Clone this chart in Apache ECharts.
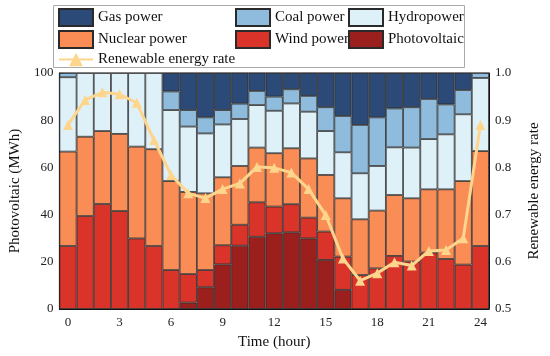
<!DOCTYPE html>
<html>
<head>
<meta charset="utf-8">
<script src="https://cdn.jsdelivr.net/npm/echarts@6/dist/echarts.min.js"></script>
<style>html,body{margin:0;padding:0;background:#fff}#c{width:550px;height:356px}</style>
</head>
<body>
<div id="c"></div>
<script>
var hours = ['0','1','2','3','4','5','6','7','8','9','10','11','12','13','14','15','16','17','18','19','20','21','22','23','24'];
var photovoltaic = [0,0,0,0,0,0,0,2.7,9.2,18.9,26.8,30.6,32.1,32.5,29.9,20.8,8.1,0,0,0,0,0,0,0,0];
var windPower = [26.7,39.4,44.5,41.5,29.9,26.7,16.5,12.1,7.3,8.1,8.9,14.6,11.3,11.9,8.8,12.0,14.1,14.4,17.2,22.5,20.1,23.9,21.2,18.8,26.7];
var nuclearPower = [40.0,33.6,30.9,32.7,38.9,41.0,37.7,34.8,32.5,28.8,24.9,23.2,22.6,23.7,25.1,24.0,24.7,23.6,24.5,25.8,26.8,26.8,29.5,35.4,40.2];
var hydropower = [31.5,27.0,24.6,25.8,31.2,32.3,30.1,27.7,25.4,22.4,19.9,18.0,18.0,19.0,19.8,18.6,19.5,19.5,18.9,20.2,21.5,21.3,23.3,28.3,31.0];
var coalPower = [1.8,0,0,0,0,0,7.9,7.0,6.8,6.1,6.5,6.0,6.0,6.0,6.7,10.1,15.4,20.5,20.6,16.5,17.1,17.0,12.7,10.3,2.1];
var gasPower = [0,0,0,0,0,0,7.8,15.7,18.8,15.7,13.0,7.6,10.0,6.9,9.7,14.5,18.2,22.0,18.8,15.0,14.5,11.0,13.3,7.2,0];
var renewableRate = [0.890,0.943,0.959,0.955,0.937,0.858,0.784,0.745,0.735,0.754,0.766,0.801,0.799,0.789,0.754,0.699,0.607,0.560,0.576,0.599,0.592,0.623,0.625,0.650,0.890];

var FONT = '"Liberation Serif","DejaVu Serif",serif';
var chart = echarts.init(document.getElementById('c'));
function nz(a){return a.map(function(v){return v===0?'-':v;});}
function barSeries(name, data, color){
  return {name:name, type:'bar', stack:'total', data:nz(data), barCategoryGap:0,
    itemStyle:{color:color, borderColor:'#2a2a2a', borderWidth:0.8}};
}
var legendText = {fontFamily:FONT, fontSize:15, color:'#111'};
chart.setOption({
  animation:false,
  backgroundColor:'#fff',
  grid:{left:46, right:56, top:73, bottom:47, show:true, borderColor:'#111', borderWidth:1, backgroundColor:'transparent'},
  graphic:[{type:'rect', shape:{x:53.5,y:5.5,width:411,height:62}, style:{fill:'none', stroke:'#aaa', lineWidth:1}, z:-1}],
  legend:[
    {orient:'vertical', left:58, top:8, itemWidth:34, itemHeight:17, itemGap:3, textStyle:legendText, padding:0,
      data:[{name:'Gas power',icon:'rect'},{name:'Nuclear power',icon:'rect'},{name:'Renewable energy rate'}]},
    {orient:'vertical', left:235, top:8, itemWidth:34, itemHeight:17, itemGap:3, textStyle:legendText, padding:0,
      data:[{name:'Coal power',icon:'rect'},{name:'Wind power',icon:'rect'}]},
    {orient:'vertical', left:348, top:8, itemWidth:34, itemHeight:17, itemGap:3, textStyle:legendText, padding:0,
      data:[{name:'Hydropower',icon:'rect'},{name:'Photovoltaic',icon:'rect'}]}
  ],
  xAxis:{type:'category', data:hours, boundaryGap:true,
    name:'Time (hour)', nameLocation:'middle', nameGap:26,
    nameTextStyle:{fontFamily:FONT, fontSize:15, color:'#111'},
    axisLine:{lineStyle:{color:'#111'}}, axisTick:{show:false},
    axisLabel:{interval:2, fontFamily:FONT, fontSize:13, color:'#222', margin:7}},
  yAxis:[
    {type:'value', min:0, max:100, interval:20,
      name:'Photovoltaic (MWh)', nameLocation:'middle', nameGap:30,
      nameTextStyle:{fontFamily:FONT, fontSize:15, color:'#111'},
      axisLine:{show:true, lineStyle:{color:'#111'}}, axisTick:{show:true, inside:true, length:4, lineStyle:{color:'#111'}},
      splitLine:{show:false},
      axisLabel:{fontFamily:FONT, fontSize:13, color:'#222', margin:6}},
    {type:'value', min:0.5, max:1.0, interval:0.1, position:'right',
      name:'Renewable energy rate', nameLocation:'middle', nameGap:38, nameRotate:90,
      nameTextStyle:{fontFamily:FONT, fontSize:15, color:'#111'},
      axisLine:{show:true, lineStyle:{color:'#111'}}, axisTick:{show:true, inside:true, length:4, lineStyle:{color:'#111'}},
      splitLine:{show:false},
      axisLabel:{fontFamily:FONT, fontSize:13, color:'#222', margin:6, formatter:function(v){return v.toFixed(1);}}}
  ],
  series:[
    barSeries('Photovoltaic', photovoltaic, '#9b1f1c'),
    barSeries('Wind power', windPower, '#d9332a'),
    barSeries('Nuclear power', nuclearPower, '#fa8c55'),
    barSeries('Hydropower', hydropower, '#dff1f8'),
    barSeries('Coal power', coalPower, '#8fbcdd'),
    barSeries('Gas power', gasPower, '#2b4a77'),
    {name:'Renewable energy rate', type:'line', yAxisIndex:1, data:renewableRate,
      symbol:'triangle', symbolSize:10, z:5,
      lineStyle:{color:'#fdd58c', width:3}, itemStyle:{color:'#fdd58c'}}
  ]
});
</script>
</body>
</html>
